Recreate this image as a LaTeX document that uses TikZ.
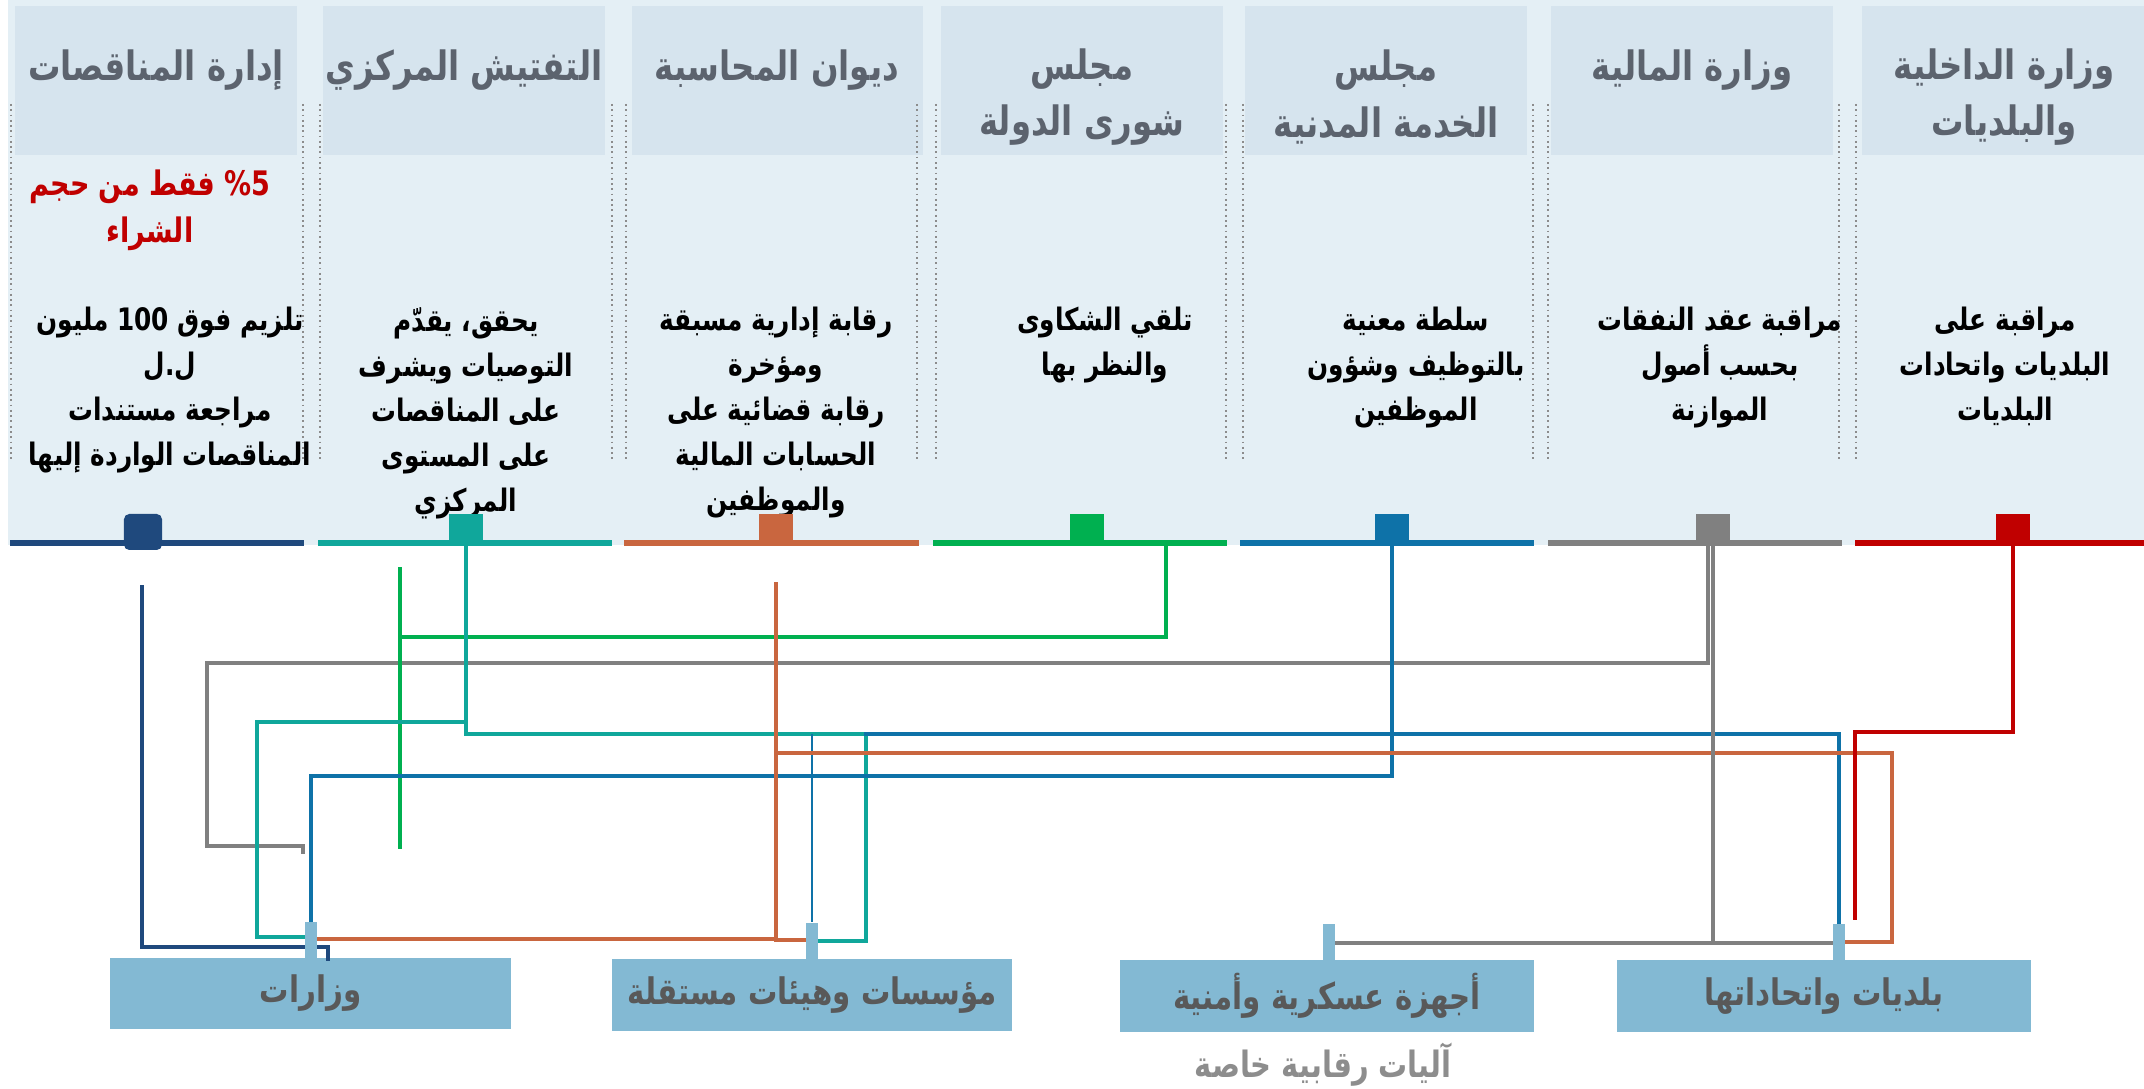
\documentclass[tikz,border=0pt]{standalone}
\usepackage{fontspec}
\usepackage{xcolor}
\usepackage{tikz}
\usetikzlibrary{positioning}
\TeXXeTstate=1
\newfontfamily\arabicfont[Script=Arabic, FakeStretch=0.8]{DejaVu Sans}
\newcommand{\artxt}[1]{\beginR #1\endR}
\definecolor{PanelBlue}{RGB}{228,239,245}
\definecolor{HeadBlue}{RGB}{214,228,238}
\definecolor{HeadGrey}{RGB}{92,99,110}
\definecolor{BoxBlue}{RGB}{131,185,211}
\definecolor{BoxText}{RGB}{89,89,89}
\definecolor{Navy}{RGB}{31,73,125}
\definecolor{Teal}{RGB}{16,167,155}
\definecolor{Rust}{RGB}{201,102,63}
\definecolor{Leaf}{RGB}{0,176,80}
\definecolor{Sea}{RGB}{14,114,168}
\definecolor{Slate}{RGB}{128,128,128}
\definecolor{Crimson}{RGB}{192,0,0}
\tikzset{
	colhead/.style={fill=HeadBlue, draw=none},
	headtext/.style={font=\arabicfont\bfseries\fontsize{11.5}{16}\selectfont, text=HeadGrey, align=center},
	bodytext/.style={font=\arabicfont\bfseries\fontsize{8.8}{12.8}\selectfont, text=black, align=center, anchor=north},
	redtext/.style={font=\arabicfont\bfseries\fontsize{9.6}{13.6}\selectfont, text=Crimson, align=center, anchor=north},
	divider/.style={densely dotted, draw=black!45, line width=0.5pt},
	colrule/.style={line width=1.5pt},
	sqmark/.style={minimum width=0.34cm, minimum height=0.30cm, inner sep=0pt, draw=none},
	link/.style={line width=0.9pt, line cap=rect},
	thinlink/.style={line width=0.6pt},
	tabstub/.style={fill=BoxBlue, draw=none, minimum width=0.12cm, minimum height=0.37cm, inner sep=0pt, anchor=north},
	target/.style={fill=BoxBlue, draw=none, inner sep=0pt, font=\arabicfont\bfseries\fontsize{10.4}{14}\selectfont, text=BoxText},
	note/.style={font=\arabicfont\bfseries\fontsize{10.3}{13}\selectfont, text=Slate!90}
}

\begin{document}
\begin{tikzpicture}[x=0.01cm, y=-0.01cm, line join=miter]
	\useasboundingbox (0,0) rectangle (2144,1089);
	
	% background panel
	\fill[PanelBlue] (8,0) rectangle (2144,545);
	
	% column headers
	\fill[colhead] (15,6) rectangle (297,155);
	\fill[colhead] (323,6) rectangle (605,155);
	\fill[colhead] (632,6) rectangle (923,155);
	\fill[colhead] (941,6) rectangle (1223,155);
	\fill[colhead] (1245,6) rectangle (1527,155);
	\fill[colhead] (1551,6) rectangle (1833,155);
	\fill[colhead] (1862,6) rectangle (2144,155);
	
	\node[headtext] (h1) at (156,70) {\artxt{إدارة المناقصات}};
	\node[headtext] (h2) at (464,70) {\artxt{التفتيش المركزي}};
	\node[headtext] (h3) at (777,70) {\artxt{ديوان المحاسبة}};
	\node[headtext] (h4) at (1082,97) {\artxt{مجلس}\\\artxt{شورى الدولة}};
	\node[headtext] (h5) at (1386,97) {\artxt{مجلس}\\\artxt{الخدمة المدنية}};
	\node[headtext] (h6) at (1692,70) {\artxt{وزارة المالية}};
	\node[headtext] (h7) at (2004,97) {\artxt{وزارة الداخلية}\\\artxt{والبلديات}};
	
	% dotted dividers
	\draw[divider] (11,104) -- (11,461);
	\draw[divider] (303,104) -- (303,461);
	\draw[divider] (320,104) -- (320,461);
	\draw[divider] (612,104) -- (612,461);
	\draw[divider] (626,104) -- (626,461);
	\draw[divider] (917,104) -- (917,461);
	\draw[divider] (936,104) -- (936,461);
	\draw[divider] (1226,104) -- (1226,461);
	\draw[divider] (1243,104) -- (1243,461);
	\draw[divider] (1533,104) -- (1533,461);
	\draw[divider] (1548,104) -- (1548,461);
	\draw[divider] (1839,104) -- (1839,461);
	\draw[divider] (1856,104) -- (1856,461);
	
	% red note
	\node[redtext] (r1) at (150,157) {\artxt{\beginL\%5\endL{} فقط من حجم}\\\artxt{الشراء}};
	
	% column texts
	\node[bodytext] (t1) at (170,295) {\artxt{تلزيم فوق \beginL100\endL{} مليون}\\\artxt{ل.ل}\\\artxt{مراجعة مستندات}\\\artxt{المناقصات الواردة إليها}};
	\node[bodytext] (t2) at (466,295) {\artxt{يحقق، يقدّم}\\\artxt{التوصيات ويشرف}\\\artxt{على المناقصات}\\\artxt{على المستوى}\\\artxt{المركزي}};
	\node[bodytext] (t3) at (776,295) {\artxt{رقابة إدارية مسبقة}\\\artxt{ومؤخرة}\\\artxt{رقابة قضائية على}\\\artxt{الحسابات المالية}\\\artxt{والموظفين}};
	\node[bodytext] (t4) at (1105,295) {\artxt{تلقي الشكاوى}\\\artxt{والنظر بها}};
	\node[bodytext] (t5) at (1416,295) {\artxt{سلطة معنية}\\\artxt{بالتوظيف وشؤون}\\\artxt{الموظفين}};
	\node[bodytext] (t6) at (1720,295) {\artxt{مراقبة عقد النفقات}\\\artxt{بحسب أصول}\\\artxt{الموازنة}};
	\node[bodytext] (t7) at (2005,295) {\artxt{مراقبة على}\\\artxt{البلديات واتحادات}\\\artxt{البلديات}};
	
	% coloured rules and markers
	\draw[colrule, Navy] (10,543) -- (304,543);
	\draw[colrule, Teal] (318,543) -- (612,543);
	\draw[colrule, Rust] (624,543) -- (919,543);
	\draw[colrule, Leaf] (933,543) -- (1227,543);
	\draw[colrule, Sea] (1240,543) -- (1534,543);
	\draw[colrule, Slate] (1548,543) -- (1842,543);
	\draw[colrule, Crimson] (1855,543) -- (2144,543);
	
	\node[sqmark, fill=Navy, rounded corners=1.5pt, minimum width=0.38cm, minimum height=0.36cm] (sq1) at (143,532) {};
	\node[sqmark, fill=Teal] (sq2) at (466,529) {};
	\node[sqmark, fill=Rust] (sq3) at (776,529) {};
	\node[sqmark, fill=Leaf] (sq4) at (1087,529) {};
	\node[sqmark, fill=Sea] (sq5) at (1392,529) {};
	\node[sqmark, fill=Slate] (sq6) at (1713,529) {};
	\node[sqmark, fill=Crimson] (sq7) at (2013,529) {};
	
	% target boxes and their tabs
	\node[target, minimum width=4.01cm, minimum height=0.71cm] (bW) at (310.5,993.5) {\artxt{وزارات}};
	\node[target, minimum width=4.00cm, minimum height=0.72cm] (bM) at (812,995) {\artxt{مؤسسات وهيئات مستقلة}};
	\node[target, minimum width=4.14cm, minimum height=0.72cm] (bA) at (1327,996) {\artxt{أجهزة عسكرية وأمنية}};
	\node[target, minimum width=4.14cm, minimum height=0.72cm] (bB) at (1824,996) {\artxt{بلديات واتحاداتها}};
	\node[note] (lbl) at (1323,1065) {\artxt{آليات رقابية خاصة}};
	
	% free ends of the links
	\coordinate (navyTop) at (142,587);
	\coordinate (slateTop) at (1708,548);
	\coordinate (leafTop) at (400,569);
	\coordinate (leafEnd) at (400,847);
	\coordinate (rustTop) at (776,584);
	\coordinate (redEnd) at (1855,918);
	
	% links
	\draw[link, Navy] (navyTop) |- (328,947) -- (328,959);
	\draw[link, Slate] (slateTop) |- (207,663) |- (303,846) -- (303,852);
	\draw[link, Leaf] (1166,543) |- (400,637);
	\draw[link, Leaf] (leafTop) -- (leafEnd);
	\draw[link, Teal] (sq2.south) |- (866,734) |- (818,941);
	\draw[link, Teal] (466,722) -| (257,937) -- (305,937);
	\draw[link, Sea] (sq5.south) |- (311,776) -- (311,921);
	\draw[link, Sea] (1839,923) |- (866,734);
	\draw[thinlink, Sea] (812,734) -- (812,922);
	\draw[link, Rust] (rustTop) |- (317,939);
	\draw[link, Rust] (776,940) -- (805,940);
	\draw[link, Rust] (776,753) -| (1892,942) -- (1845,942);
	\draw[link, Slate] (sq6.south) -- (1713,943);
	\draw[link, Slate] (1335,943) -- (1832,943);
	\draw[link, Crimson] (sq7.south) |- (1855,732) -- (redEnd);
	
	\node[tabstub] (tabW) at (311,921) {};
	\node[tabstub] (tabM) at (811.5,922) {};
	\node[tabstub] (tabA) at (1329,923) {};
	\node[tabstub] (tabB) at (1838.5,923) {};
\end{tikzpicture}
\end{document}
